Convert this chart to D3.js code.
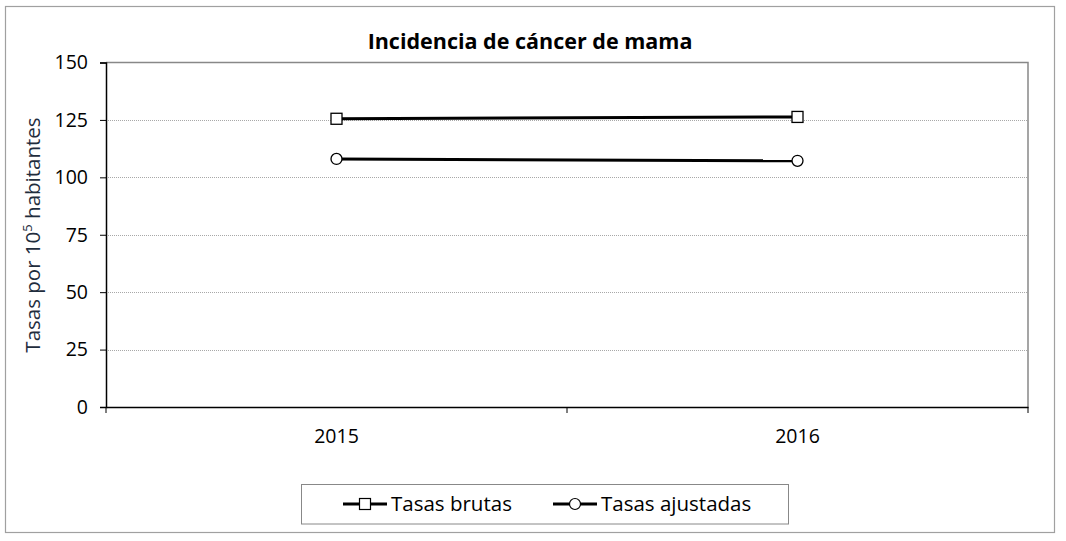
<!DOCTYPE html>
<html><head><meta charset="utf-8">
<script src="https://cdn.jsdelivr.net/npm/d3@7"></script>
<style>body{margin:0;background:#fff;} svg{display:block;font-family:"Open Sans","Noto Sans",sans-serif;}</style>
</head><body>
<svg id="c" width="1066" height="541"></svg>
<script>
const categories = ["2015", "2016"];
const tasasBrutas = [125.5, 126.3];
const tasasAjustadas = [108.0, 107.2];
const yTicks = [0, 25, 50, 75, 100, 125, 150];
const seriesNames = ["Tasas brutas", "Tasas ajustadas"];

const svg = d3.select("#c");
const m = {l:106, t:62.5, r:1028, b:407};
const x = d3.scaleBand().domain(categories).range([m.l, m.r]);
const y = d3.scaleLinear().domain([0,150]).range([m.b, m.t]);

svg.append("rect").attr("x",5.5).attr("y",6.5).attr("width",1049).attr("height",526)
  .attr("fill","#fff").attr("stroke","#a0a0a0").attr("stroke-width",1.2);

// gridlines
svg.append("g").selectAll("line").data(yTicks.filter(d=>d>0 && d<150)).join("line")
  .attr("x1",m.l).attr("x2",m.r).attr("y1",d=>Math.round(y(d))+0.5).attr("y2",d=>Math.round(y(d))+0.5)
  .attr("stroke","#a8a8a8").attr("stroke-width",1).attr("stroke-dasharray","1,1");

// plot border top/right
svg.append("path").attr("d",`M${m.l},${m.t}H${m.r}V${m.b}`).attr("fill","none").attr("stroke","#888").attr("stroke-width",1.5);

// y axis
const ya = svg.append("g").attr("transform",`translate(${m.l},0)`)
  .call(d3.axisLeft(y).tickValues(yTicks).tickSize(6).tickPadding(12));
ya.select(".domain").attr("stroke","#000").attr("stroke-width",1.5);
ya.selectAll(".tick line").attr("stroke","#000");
ya.selectAll("text").attr("font-size",19.5).attr("fill","#000").attr("font-family","'Open Sans',sans-serif");

// x axis
const xa = svg.append("g").attr("transform",`translate(0,${m.b})`)
  .call(d3.axisBottom(x).tickSize(0).tickPadding(22));
xa.select(".domain").attr("stroke","#000").attr("stroke-width",1.5);
xa.selectAll("text").attr("font-size",19.5).attr("fill","#000").attr("font-family","'Open Sans',sans-serif");
// boundary ticks
const bounds = [m.l, (m.l+m.r)/2, m.r];
svg.append("g").selectAll("line").data(bounds).join("line")
  .attr("x1",d=>d).attr("x2",d=>d).attr("y1",m.b).attr("y2",m.b+6).attr("stroke","#000").attr("stroke-width",1);

const cx = d => x(d) + x.bandwidth()/2;
const line = d3.line().x((d,i)=>cx(categories[i])).y(d=>y(d));
[tasasBrutas, tasasAjustadas].forEach(s=>{
  svg.append("path").datum(s).attr("d",line).attr("fill","none").attr("stroke","#000").attr("stroke-width",3);
});
svg.append("g").selectAll("rect").data(tasasBrutas).join("rect")
  .attr("x",(d,i)=>cx(categories[i])-5.5).attr("y",d=>y(d)-5.5).attr("width",11).attr("height",11)
  .attr("fill","#fff").attr("stroke","#000").attr("stroke-width",1.3);
svg.append("g").selectAll("circle").data(tasasAjustadas).join("circle")
  .attr("cx",(d,i)=>cx(categories[i])).attr("cy",d=>y(d)).attr("r",5.5)
  .attr("fill","#fff").attr("stroke","#000").attr("stroke-width",1.3);

// title
svg.append("text").attr("x",530).attr("y",49).attr("text-anchor","middle")
  .attr("font-size",21.5).attr("font-weight","bold").text("Incidencia de cáncer de mama");

// y label
const yl = svg.append("text").attr("transform","translate(40,235) rotate(-90)").attr("text-anchor","middle")
  .attr("font-size",20.5).attr("fill","#1f2d3d");
yl.append("tspan").text("Tasas por 10");
yl.append("tspan").attr("font-size",13).attr("dy",-8).text("5");
yl.append("tspan").attr("dy",8).text(" habitantes");

// legend
svg.append("rect").attr("x",301.5).attr("y",484.5).attr("width",487).attr("height",39.5)
  .attr("fill","#fff").attr("stroke","#888").attr("stroke-width",1);
const lg = [{x:343, name:seriesNames[0], shape:"sq"}, {x:553, name:seriesNames[1], shape:"ci"}];
lg.forEach(e=>{
  const g = svg.append("g");
  g.append("line").attr("x1",e.x).attr("x2",e.x+44).attr("y1",504).attr("y2",504).attr("stroke","#000").attr("stroke-width",3);
  if(e.shape==="sq") g.append("rect").attr("x",e.x+22-5.5).attr("y",498.5).attr("width",11).attr("height",11).attr("fill","#fff").attr("stroke","#000").attr("stroke-width",1.2);
  else g.append("circle").attr("cx",e.x+22).attr("cy",504).attr("r",5.5).attr("fill","#fff").attr("stroke","#000").attr("stroke-width",1.2);
  g.append("text").attr("x",e.x+48).attr("y",511).attr("font-size",20.5).attr("fill","#000").text(e.name);
});
</script>
</body></html>
